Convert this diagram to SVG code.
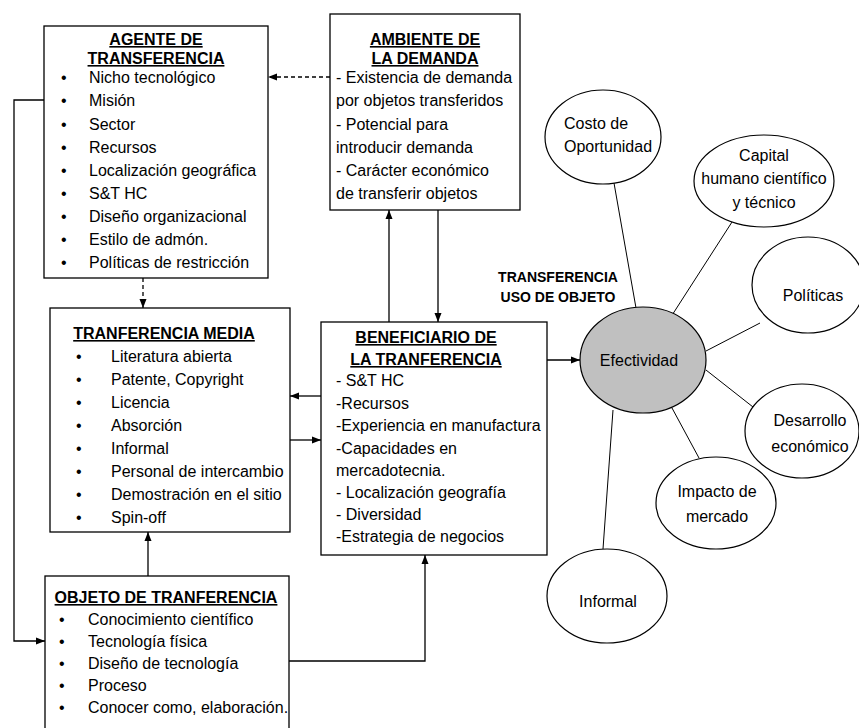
<svg xmlns="http://www.w3.org/2000/svg" width="859" height="728" viewBox="0 0 859 728">
<defs>
<style>
text{font-family:"Liberation Sans",Arial,sans-serif;font-size:16px;fill:#000}
.h{font-weight:bold;text-decoration:underline;text-anchor:middle}
.b{font-weight:bold;font-size:14px;text-anchor:middle}
.c{text-anchor:middle}
.box{fill:#fff;stroke:#000;stroke-width:1.3}
.ell{fill:#fff;stroke:#000;stroke-width:1.2}
.ln{fill:none;stroke:#000;stroke-width:1.3}
.dash{fill:none;stroke:#000;stroke-width:1.3;stroke-dasharray:4 3}
.thin{fill:none;stroke:#000;stroke-width:1}
</style>
<marker id="ar" markerUnits="userSpaceOnUse" markerWidth="9" markerHeight="8" refX="9" refY="4" orient="auto">
<path d="M0,0.5 L9,4 L0,7.5 z" fill="#000"/>
</marker>
</defs>
<rect width="859" height="728" fill="#fff"/>

<g id="connectors">
<line class="dash" x1="330" y1="77" x2="268" y2="77" marker-end="url(#ar)"/>
<line class="dash" x1="143" y1="278" x2="143" y2="308" marker-end="url(#ar)"/>
<polyline class="ln" points="44,100 14,100 14,641 45,641" marker-end="url(#ar)"/>
<line class="ln" x1="389" y1="322" x2="389" y2="210" marker-end="url(#ar)"/>
<line class="ln" x1="438" y1="210" x2="438" y2="322" marker-end="url(#ar)"/>
<line class="ln" x1="321" y1="396" x2="290" y2="396" marker-end="url(#ar)"/>
<line class="ln" x1="290" y1="440" x2="321" y2="440" marker-end="url(#ar)"/>
<line class="ln" x1="148" y1="576" x2="148" y2="532" marker-end="url(#ar)"/>
<polyline class="ln" points="289,661 425,661 425,555" marker-end="url(#ar)"/>
<line class="ln" x1="547" y1="360" x2="580" y2="360" marker-end="url(#ar)"/>
<line class="thin" x1="636" y1="308" x2="614" y2="183"/>
<line class="thin" x1="667" y1="323" x2="732" y2="222"/>
<line class="thin" x1="706" y1="351" x2="760" y2="323"/>
<line class="thin" x1="706" y1="370" x2="753" y2="407"/>
<line class="thin" x1="672" y1="408" x2="699" y2="458"/>
<line class="thin" x1="613" y1="410" x2="603" y2="549"/>
</g>

<g id="agente">
<rect class="box" x="44" y="26" width="224" height="252"/>
<text class="h" x="156" y="45">AGENTE DE</text>
<text class="h" x="156" y="64">TRANSFERENCIA</text>
<text x="61" y="83">•</text><text x="89" y="83">Nicho tecnológico</text>
<text x="61" y="106">•</text><text x="89" y="106">Misión</text>
<text x="61" y="130">•</text><text x="89" y="130">Sector</text>
<text x="61" y="153">•</text><text x="89" y="153">Recursos</text>
<text x="61" y="176">•</text><text x="89" y="176">Localización geográfica</text>
<text x="61" y="199">•</text><text x="89" y="199">S&amp;T HC</text>
<text x="61" y="222">•</text><text x="89" y="222">Diseño organizacional</text>
<text x="61" y="245">•</text><text x="89" y="245">Estilo de admón.</text>
<text x="61" y="268">•</text><text x="89" y="268">Políticas de restricción</text>
</g>

<g id="ambiente">
<rect class="box" x="330" y="14" width="190" height="196"/>
<text class="h" x="425" y="45">AMBIENTE DE</text>
<text class="h" x="425" y="64">LA DEMANDA</text>
<text x="336" y="83">- Existencia de demanda</text>
<text x="336" y="106">por objetos transferidos</text>
<text x="336" y="130">- Potencial para</text>
<text x="336" y="153">introducir demanda</text>
<text x="336" y="176">- Carácter económico</text>
<text x="336" y="199">de transferir objetos</text>
</g>

<g id="media">
<rect class="box" x="50" y="308" width="240" height="224"/>
<text class="h" x="164" y="339">TRANFERENCIA MEDIA</text>
<text x="76" y="362">•</text><text x="111" y="362">Literatura abierta</text>
<text x="76" y="385">•</text><text x="111" y="385">Patente, Copyright</text>
<text x="76" y="408">•</text><text x="111" y="408">Licencia</text>
<text x="76" y="431">•</text><text x="111" y="431">Absorción</text>
<text x="76" y="454">•</text><text x="111" y="454">Informal</text>
<text x="76" y="477">•</text><text x="111" y="477">Personal de intercambio</text>
<text x="76" y="500">•</text><text x="111" y="500">Demostración en el sitio</text>
<text x="76" y="523">•</text><text x="111" y="523">Spin-off</text>
</g>

<g id="beneficiario">
<rect class="box" x="321" y="322" width="226" height="233"/>
<text class="h" x="426" y="343">BENEFICIARIO DE</text>
<text class="h" x="426" y="365">LA TRANFERENCIA</text>
<text x="336" y="386">- S&amp;T HC</text>
<text x="336" y="409">-Recursos</text>
<text x="336" y="431">-Experiencia en manufactura</text>
<text x="336" y="454">-Capacidades en</text>
<text x="336" y="476">mercadotecnia.</text>
<text x="336" y="498">- Localización geografía</text>
<text x="336" y="520">- Diversidad</text>
<text x="336" y="542">-Estrategia de negocios</text>
</g>

<g id="objeto">
<rect class="box" x="45" y="576" width="244" height="170"/>
<text class="h" x="166" y="603">OBJETO DE TRANFERENCIA</text>
<text x="59" y="625">•</text><text x="88" y="625">Conocimiento científico</text>
<text x="59" y="647">•</text><text x="88" y="647">Tecnología física</text>
<text x="59" y="669">•</text><text x="88" y="669">Diseño de tecnología</text>
<text x="59" y="691">•</text><text x="88" y="691">Proceso</text>
<text x="59" y="713">•</text><text x="88" y="713">Conocer como, elaboración.</text>
</g>

<g id="label-uso">
<text class="b" x="558" y="282">TRANSFERENCIA</text>
<text class="b" x="558" y="302">USO DE OBJETO</text>
</g>

<g id="costo">
<ellipse class="ell" cx="603" cy="137" rx="58" ry="47"/>
<text x="564" y="129">Costo de</text>
<text x="564" y="152">Oportunidad</text>
</g>

<g id="capital">
<ellipse class="ell" cx="764" cy="181" rx="70" ry="46"/>
<text class="c" x="764" y="161">Capital</text>
<text class="c" x="764" y="184">humano científico</text>
<text class="c" x="764" y="208">y técnico</text>
</g>

<g id="politicas">
<ellipse class="ell" cx="808" cy="285" rx="56" ry="48"/>
<text class="c" x="813" y="301">Políticas</text>
</g>

<g id="efectividad">
<ellipse cx="643" cy="360" rx="63" ry="53" fill="#c0c0c0" stroke="#000" stroke-width="1.2"/>
<text class="c" x="639" y="366">Efectividad</text>
</g>

<g id="desarrollo">
<ellipse class="ell" cx="802" cy="431" rx="57" ry="47"/>
<text class="c" x="810" y="426">Desarrollo</text>
<text class="c" x="810" y="452">económico</text>
</g>

<g id="impacto">
<ellipse class="ell" cx="716" cy="503" rx="60" ry="46"/>
<text class="c" x="717" y="497">Impacto de</text>
<text class="c" x="717" y="522">mercado</text>
</g>

<g id="informal">
<ellipse class="ell" cx="607" cy="596" rx="60" ry="47"/>
<text class="c" x="608" y="607">Informal</text>
</g>
</svg>
